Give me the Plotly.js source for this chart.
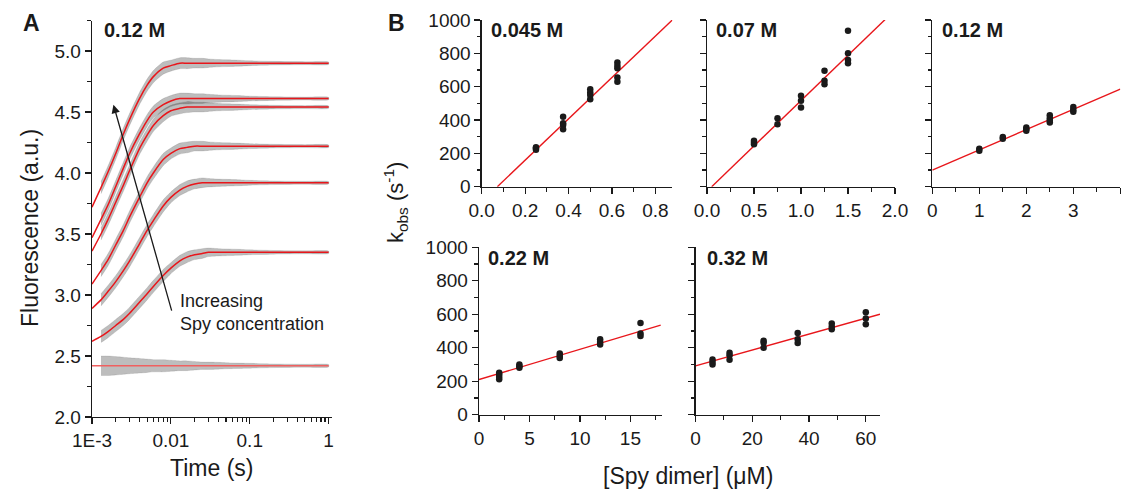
<!DOCTYPE html>
<html><head><meta charset="utf-8">
<script src="https://cdn.plot.ly/plotly-3.0.1.min.js"></script>
<style>html,body{margin:0;padding:0;background:#fff}#chart{width:1123px;height:490px}</style>
</head><body><div id="chart"></div>
<script>
// ---------- Panel A: stopped-flow traces (0.12 M) ----------
const timeGrid = [0.001,0.0013,0.0016,0.002,0.0025,0.003,0.004,0.005,0.006,0.008,0.01,0.013,0.016,0.02,0.025,0.03,0.04,0.05,0.07,0.1,0.2,0.5,1.0];
const fitBaseline = [2.42,2.42,2.42,2.42,2.42,2.42,2.42,2.42,2.42,2.42,2.42,2.42,2.42,2.42,2.42,2.42,2.42,2.42,2.42,2.42,2.42,2.42,2.42];
const fitTrace1 = [2.62,2.66,2.70,2.75,2.80,2.85,2.94,3.01,3.07,3.16,3.22,3.28,3.31,3.33,3.34,3.35,3.35,3.35,3.35,3.35,3.35,3.35,3.35];
const fitTrace2 = [2.89,2.96,3.03,3.11,3.20,3.28,3.42,3.53,3.61,3.73,3.80,3.86,3.89,3.91,3.92,3.92,3.92,3.92,3.92,3.92,3.92,3.92,3.92];
const fitTrace3 = [3.09,3.20,3.29,3.41,3.53,3.64,3.80,3.92,4.00,4.11,4.16,4.20,4.21,4.22,4.22,4.22,4.22,4.22,4.22,4.22,4.22,4.22,4.22];
const fitTrace4 = [3.36,3.50,3.62,3.76,3.90,4.02,4.20,4.31,4.39,4.47,4.51,4.53,4.54,4.54,4.54,4.54,4.54,4.54,4.54,4.54,4.54,4.54,4.54];
const fitTrace5 = [3.47,3.62,3.74,3.89,4.04,4.16,4.32,4.43,4.50,4.56,4.59,4.61,4.61,4.61,4.61,4.61,4.61,4.61,4.61,4.61,4.61,4.61,4.61];
const fitTrace6 = [3.72,3.88,4.01,4.16,4.32,4.44,4.61,4.72,4.79,4.86,4.88,4.90,4.90,4.90,4.90,4.90,4.90,4.90,4.90,4.90,4.90,4.90,4.90];
// half-width of the scattered raw data around each fit
const scatterSpread = [0.05,0.05,0.05,0.05,0.05,0.05,0.05,0.05,0.05,0.05,0.045,0.045,0.045,0.04,0.04,0.035,0.03,0.028,0.025,0.02,0.015,0.012,0.01];
const scatterSpreadBaseline = [0.08,0.08,0.08,0.075,0.07,0.065,0.06,0.055,0.05,0.05,0.045,0.04,0.04,0.035,0.03,0.03,0.028,0.025,0.022,0.02,0.015,0.012,0.01];
const timeTickVals = [0.001,0.01,0.1,1];
const timeTickText = ["1E-3","0.01","0.1","1"];
const timeMinorVals = [0.002,0.003,0.004,0.005,0.006,0.007,0.008,0.009,0.02,0.03,0.04,0.05,0.06,0.07,0.08,0.09,0.2,0.3,0.4,0.5,0.6,0.7,0.8,0.9];

// ---------- Panel B: kobs vs [Spy dimer] ----------
const spy045 = [0.25,0.25,0.25,0.375,0.375,0.375,0.375,0.5,0.5,0.5,0.5,0.625,0.625,0.625,0.625,0.625];
const kobs045 = [230,222,236,420,380,370,345,585,565,550,525,745,725,710,655,630];
const fit045X = [0.072,0.878];
const fit045Y = [0,1000];

const spy07 = [0.5,0.5,0.5,0.75,0.75,1.0,1.0,1.0,1.25,1.25,1.25,1.5,1.5,1.5,1.5];
const kobs07 = [275,265,255,410,375,545,515,475,695,635,615,935,800,760,740];
const fit07X = [0.05,2.0];
const fit07Y = [0,1060];

const spy12 = [1,1,1.5,1.5,2,2,2,2.5,2.5,2.5,2.5,3,3,3];
const kobs12 = [228,215,298,288,355,345,335,428,410,395,385,478,462,450];
const fit12X = [0,4];
const fit12Y = [100,585];

const spy22 = [2,2,2,2,4,4,4,8,8,8,12,12,12,16,16,16];
const kobs22 = [250,240,225,212,300,290,280,365,350,338,450,435,420,548,485,470];
const fit22X = [0,18];
const fit22Y = [210,535];

const spy32 = [6,6,6,12,12,12,24,24,24,36,36,36,48,48,48,60,60,60];
const kobs32 = [330,315,300,370,355,328,442,430,400,488,450,428,545,525,510,612,575,540];
const fit32X = [0,65];
const fit32Y = [292,600];

const panelLabels = ["0.045 M","0.07 M","0.12 M","0.22 M","0.32 M"];

// ---------- build ----------
const W = 1123, H = 490;
const px = x => x / W, py = y => 1 - y / H;
const RED = '#e8161b', INK = '#1a1a1a';
const FONT = 'Liberation Sans, Arial, sans-serif';

const traces = [];
const curvesA = [fitTrace1, fitTrace2, fitTrace3, fitTrace4, fitTrace5, fitTrace6];
[[fitBaseline, scatterSpreadBaseline]].concat(curvesA.map(c => [c, scatterSpread])).forEach(([fit, sp]) => {
  const t = timeGrid.slice(1);
  const up = fit.slice(1).map((v, i) => v + sp[i + 1]);
  const lo = fit.slice(1).map((v, i) => v - sp[i + 1]);
  traces.push({
    x: t.concat(t.slice().reverse()), y: up.concat(lo.slice().reverse()),
    xaxis: 'x', yaxis: 'y', type: 'scatter', mode: 'lines', fill: 'toself',
    line: {width: 0.5, shape: 'spline', smoothing: 0.6, color: 'rgba(60,60,60,0.25)'},
    fillcolor: 'rgba(50,50,50,0.32)',
    hoverinfo: 'skip', showlegend: false
  });
});
[fitBaseline].concat(curvesA).forEach((fit, i) => {
  traces.push({x: timeGrid, y: fit, xaxis: 'x', yaxis: 'y', type: 'scatter', mode: 'lines',
    line: {color: i === 0 ? '#f06060' : RED, width: 1.5, shape: 'spline', smoothing: 0.8}, showlegend: false});
});

const bSets = [
  [spy045, kobs045, fit045X, fit045Y, 2],
  [spy07, kobs07, fit07X, fit07Y, 3],
  [spy12, kobs12, fit12X, fit12Y, 4],
  [spy22, kobs22, fit22X, fit22Y, 5],
  [spy32, kobs32, fit32X, fit32Y, 6]
];
bSets.forEach(([xs, ys, fx, fy, n]) => {
  traces.push({x: fx, y: fy, xaxis: 'x' + n, yaxis: 'y' + n, type: 'scatter', mode: 'lines',
    line: {color: RED, width: 1.4}, showlegend: false});
  traces.push({x: xs, y: ys, xaxis: 'x' + n, yaxis: 'y' + n, type: 'scatter', mode: 'markers',
    marker: {color: INK, size: 6.5}, showlegend: false});
});

const baseAxis = {
  showline: true, linecolor: INK, linewidth: 1.3, ticks: 'outside', ticklen: 6, tickwidth: 1.2,
  tickcolor: INK, showgrid: false, zeroline: false, fixedrange: true,
  tickfont: {family: FONT, size: 19, color: INK},
  minor: {ticks: 'outside', ticklen: 3.5, tickwidth: 1.1, tickcolor: INK, showgrid: false}
};
const ax = (o) => Object.assign({}, JSON.parse(JSON.stringify(baseAxis)), o, {minor: Object.assign({}, baseAxis.minor, o.minor || {})});
const note = (text, x, y, size, extra) => Object.assign({text: text, x: px(x), y: py(y), xref: 'paper', yref: 'paper',
  xanchor: 'center', yanchor: 'middle', showarrow: false, font: {size: size, family: FONT, color: INK}}, extra || {});

const layout = {
  width: W, height: H, margin: {l: 0, r: 0, t: 0, b: 0},
  paper_bgcolor: '#fff', plot_bgcolor: '#fff', showlegend: false,
  font: {family: FONT, color: INK},
  xaxis: ax({type: 'log', domain: [px(92), px(332)], range: [-3, 0.043], anchor: 'y',
    tickmode: 'array', tickvals: timeTickVals, ticktext: timeTickText,
    minor: {tickmode: 'array', tickvals: timeMinorVals}}),
  yaxis: ax({domain: [py(417), py(20.5)], range: [2.0, 5.25], anchor: 'x', dtick: 0.5, tick0: 2, tickformat: '.1f',
    minor: {dtick: 0.25}}),
  xaxis2: ax({domain: [px(481.7), px(672.3)], range: [0, 0.878], anchor: 'y2', dtick: 0.2, tickformat: '.1f', minor: {dtick: 0.1}}),
  yaxis2: ax({domain: [py(186.7), py(20)], range: [0, 1000], anchor: 'x2', dtick: 200, minor: {dtick: 100}}),
  xaxis3: ax({domain: [px(707), px(895)], range: [0, 2.0], anchor: 'y3', dtick: 0.5, tickformat: '.1f', minor: {dtick: 0.25}}),
  yaxis3: ax({domain: [py(186.7), py(20)], range: [0, 1000], anchor: 'x3', dtick: 200, showticklabels: false, minor: {dtick: 100}}),
  xaxis4: ax({domain: [px(932.3), px(1120.3)], range: [0, 4], anchor: 'y4', dtick: 1, minor: {dtick: 0.5}}),
  yaxis4: ax({domain: [py(186.7), py(20)], range: [0, 1000], anchor: 'x4', dtick: 200, showticklabels: false, minor: {dtick: 100}}),
  xaxis5: ax({domain: [px(479), px(661.7)], range: [0, 18.1], anchor: 'y5', dtick: 5, minor: {dtick: 2.5}}),
  yaxis5: ax({domain: [py(414.7), py(247.3)], range: [0, 1000], anchor: 'x5', dtick: 200, minor: {dtick: 100}}),
  xaxis6: ax({domain: [px(695.5), px(880)], range: [0, 65], anchor: 'y6', dtick: 20, minor: {dtick: 10}}),
  yaxis6: ax({domain: [py(414.7), py(247.3)], range: [0, 1000], anchor: 'x6', dtick: 200, showticklabels: false, minor: {dtick: 100}}),
  annotations: [
    note('<b>A</b>', 31, 23, 23),
    note('<b>B</b>', 396, 23, 23),
    note('<b>0.12 M</b>', 102, 30, 20, {xanchor: 'left'}),
    note('<b>' + panelLabels[0] + '</b>', 489, 30, 20, {xanchor: 'left'}),
    note('<b>' + panelLabels[1] + '</b>', 714, 30, 20, {xanchor: 'left'}),
    note('<b>' + panelLabels[2] + '</b>', 940, 30, 20, {xanchor: 'left'}),
    note('<b>' + panelLabels[3] + '</b>', 486, 258, 20, {xanchor: 'left'}),
    note('<b>' + panelLabels[4] + '</b>', 705, 258, 20, {xanchor: 'left'}),
    note('Fluorescence (a.u.)', 30, 228, 23, {textangle: -90}),
    note('Time (s)', 211, 468, 23),
    note('[Spy dimer] (μM)', 688, 476, 23),
    note('k<sub>obs</sub> (s<sup>-1</sup>)', 395, 203, 22, {textangle: -90}),
    note('Increasing<br>Spy concentration', 178, 312, 18, {xanchor: 'left', align: 'left'}),
    {x: Math.log10(0.00187), y: 4.56, xref: 'x', yref: 'y', ax: Math.log10(0.01036), ay: 2.86, axref: 'x', ayref: 'y',
      text: '', showarrow: true, arrowhead: 2, arrowsize: 1.3, arrowwidth: 1.3, arrowcolor: INK, standoff: 0}
  ]
};

Plotly.newPlot('chart', traces, layout, {staticPlot: true, displayModeBar: false});
</script></body></html>
